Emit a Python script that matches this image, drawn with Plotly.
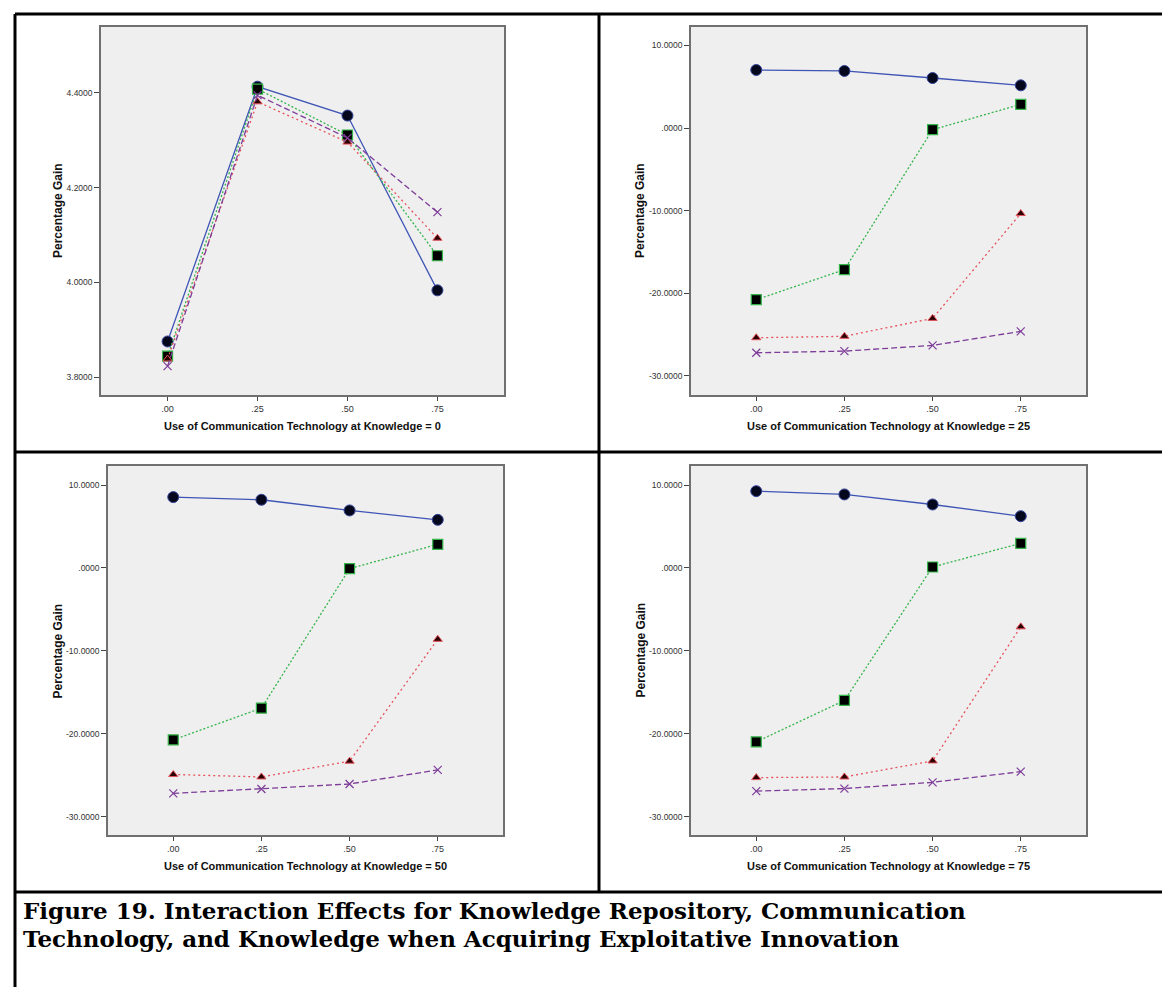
import plotly.graph_objects as go

# ---------------- data ----------------
comm_tech = [0.0, 0.25, 0.50, 0.75]
x_tick_labels = [".00", ".25", ".50", ".75"]

panel_titles = [
    "Use of Communication Technology at Knowledge = 0",
    "Use of Communication Technology at Knowledge = 25",
    "Use of Communication Technology at Knowledge = 50",
    "Use of Communication Technology at Knowledge = 75",
]

# Knowledge = 0
k0_circle = [3.875, 4.413, 4.352, 3.983]
k0_square = [3.844, 4.408, 4.311, 4.056]
k0_triangle = [3.838, 4.381, 4.296, 4.093]
k0_cross = [3.823, 4.395, 4.305, 4.148]

# Knowledge = 25
k25_circle = [7.03, 6.91, 6.06, 5.17]
k25_square = [-20.77, -17.13, -0.20, 2.87]
k25_triangle = [-25.37, -25.20, -23.03, -10.34]
k25_cross = [-27.19, -26.99, -26.30, -24.60]

# Knowledge = 50
k50_circle = [8.55, 8.23, 6.94, 5.81]
k50_square = [-20.73, -16.90, -0.08, 2.86]
k50_triangle = [-24.90, -25.20, -23.30, -8.60]
k50_cross = [-27.18, -26.65, -26.05, -24.35]

# Knowledge = 75
k75_circle = [9.27, 8.87, 7.66, 6.25]
k75_square = [-20.97, -15.97, 0.12, 2.98]
k75_triangle = [-25.28, -25.20, -23.27, -7.10]
k75_cross = [-26.90, -26.60, -25.85, -24.56]

y_ticks_k0 = [3.8, 4.0, 4.2, 4.4]
y_tick_labels_k0 = ["3.8000", "4.0000", "4.2000", "4.4000"]
y_ticks_other = [-30, -20, -10, 0, 10]
y_tick_labels_other = ["-30.0000", "-20.0000", "-10.0000", ".0000", "10.0000"]

y_axis_title = "Percentage Gain"
caption_lines = [
    "Figure 19. Interaction Effects for Knowledge Repository, Communication",
    "Technology, and Knowledge when Acquiring Exploitative Innovation",
]

panel_series = [
    [k0_circle, k0_square, k0_triangle, k0_cross],
    [k25_circle, k25_square, k25_triangle, k25_cross],
    [k50_circle, k50_square, k50_triangle, k50_cross],
    [k75_circle, k75_square, k75_triangle, k75_cross],
]

# ---------------- layout helpers ----------------
W, H = 1170, 987


def fx(p):
    return p / W


def fy(p):
    return 1 - p / H


# pixel boxes of each plot area (left, right, top, bottom), y ranges, title offset
boxes = [
    (93, 496, 19, 387, [3.762, 4.539], y_ticks_k0, y_tick_labels_k0, 43),
    (683, 1078, 19, 387, [-32.3, 12.23], y_ticks_other, y_tick_labels_other, 51),
    (100, 495, 458, 827, [-32.2, 12.3], y_ticks_other, y_tick_labels_other, 51),
    (683, 1078, 458, 827, [-32.2, 12.3], y_ticks_other, y_tick_labels_other, 51),
]

styles = [
    dict(line=dict(color="#3f55b5", width=1.3, dash="solid"),
         marker=dict(symbol="circle", size=11, color="#05081c",
                     line=dict(color="#34449a", width=1))),
    dict(line=dict(color="#34b44a", width=1.3, dash="2px,2px"),
         marker=dict(symbol="square", size=10, color="#000000",
                     line=dict(color="#34b44a", width=1.2))),
    dict(line=dict(color="#e5525c", width=1.3, dash="2px,3px"),
         marker=dict(symbol="triangle-up", size=8, color="#2a0000",
                     line=dict(color="#e5525c", width=1))),
    dict(line=dict(color="#7d3c98", width=1.3, dash="6px,3px"),
         marker=dict(symbol="x-thin", size=8, color="#7d3c98",
                     line=dict(color="#7d3c98", width=1.2))),
]

fig = go.Figure()
layout = dict(
    width=W, height=H,
    margin=dict(l=0, r=0, t=0, b=0),
    paper_bgcolor="white",
    plot_bgcolor="#efefef",
    showlegend=False,
    font=dict(family="Arial, Liberation Sans, sans-serif", color="#222"),
)

annotations = []
for i, (series, box, title) in enumerate(zip(panel_series, boxes, panel_titles)):
    l, r, t, b, yr, yt, ytl, toff = box
    n = "" if i == 0 else str(i + 1)
    for vals, st in zip(series, styles):
        fig.add_trace(go.Scatter(
            x=comm_tech, y=vals, mode="lines+markers",
            line=st["line"], marker=st["marker"],
            xaxis="x" + n, yaxis="y" + n, hoverinfo="skip",
        ))
    layout["xaxis" + n] = dict(
        domain=[fx(l), fx(r)], range=[-0.185, 0.935], anchor="y" + n,
        tickvals=comm_tech, ticktext=x_tick_labels,
        showgrid=False, zeroline=False,
        showline=True, mirror=True, linecolor="#707070", linewidth=1.5,
        ticks="outside", ticklen=4, tickcolor="#444", tickwidth=1,
        tickfont=dict(size=9, color="#333", family="Arial, Liberation Sans"),
    )
    layout["yaxis" + n] = dict(
        domain=[fy(b), fy(t)], range=yr, anchor="x" + n,
        tickvals=yt, ticktext=ytl,
        showgrid=False, zeroline=False,
        showline=True, mirror=True, linecolor="#707070", linewidth=1.5,
        ticks="outside", ticklen=5, tickcolor="#444", tickwidth=1,
        tickfont=dict(size=8.5, color="#333", family="Arial, Liberation Sans"),
    )
    # y axis title
    annotations.append(dict(
        x=fx(l - toff), y=fy((t + b) / 2), xref="paper", yref="paper",
        text="<b>" + y_axis_title + "</b>", textangle=-90, showarrow=False,
        font=dict(size=12, color="#111", family="Arial, Liberation Sans"),
        xanchor="center", yanchor="middle",
    ))
    # x axis title
    annotations.append(dict(
        x=fx((l + r) / 2), y=fy(b + 31), xref="paper", yref="paper",
        text="<b>" + title + "</b>", showarrow=False,
        font=dict(size=11, color="#111", family="Arial, Liberation Sans"),
        xanchor="center", yanchor="middle",
    ))

for k, line in enumerate(caption_lines):
    annotations.append(dict(
        x=fx(13), y=fy(902 + 28 * k), xref="paper", yref="paper",
        text="<b>" + line + "</b>", showarrow=False, align="left",
        font=dict(size=23, color="#000", family="DejaVu Serif, Liberation Serif, serif"),
        xanchor="left", yanchor="middle",
    ))

layout["annotations"] = annotations

# frame lines
shapes = []
frame = [
    (7, 6, W, 6),
    (7, 6, 7, H),
    (591, 6, 591, 884),
    (7, 444, W, 444),
    (7, 884, W, 884),
]
for x0, y0, x1, y1 in frame:
    shapes.append(dict(type="line", xref="paper", yref="paper",
                       x0=fx(x0), y0=fy(y0), x1=fx(x1), y1=fy(y1),
                       line=dict(color="black", width=3)))
layout["shapes"] = shapes

fig.update_layout(**layout)
fig.write_html("out.html")
